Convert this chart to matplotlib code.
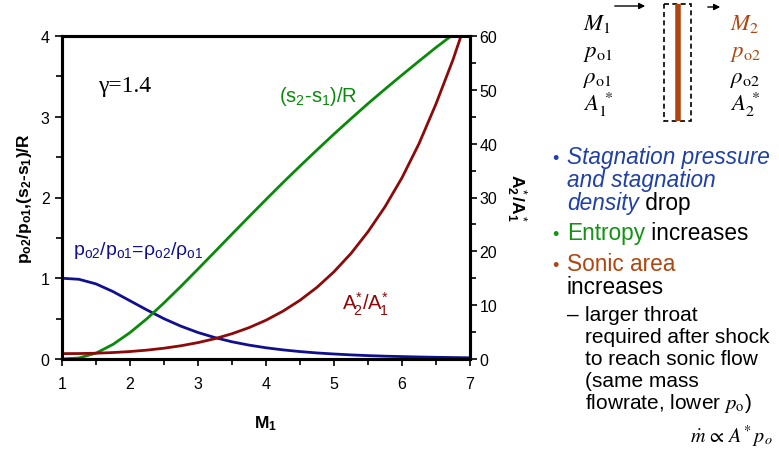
import numpy as np
import matplotlib
matplotlib.use("Agg")
import matplotlib.pyplot as plt
from matplotlib.patches import Rectangle
from matplotlib.ticker import MultipleLocator

plt.rcParams["font.family"] = ["Liberation Sans", "DejaVu Sans"]
plt.rcParams["mathtext.fontset"] = "custom"
plt.rcParams["mathtext.rm"] = "Liberation Sans"
plt.rcParams["mathtext.it"] = "Liberation Sans:italic"
plt.rcParams["mathtext.bf"] = "Liberation Sans:bold"

# normal shock, gamma = 1.4
mach = [1.0, 1.25, 1.5, 1.75, 2.0, 2.25, 2.5, 2.75, 3.0, 3.25, 3.5, 3.75, 4.0,
        4.25, 4.5, 4.75, 5.0, 5.25, 5.5, 5.75, 6.0, 6.25, 6.5, 6.75, 7.0]
p_ratio = [1.0, 0.987, 0.930, 0.835, 0.721, 0.607, 0.499, 0.406, 0.328, 0.265,
           0.213, 0.172, 0.139, 0.113, 0.092, 0.075, 0.062, 0.051, 0.042, 0.035,
           0.030, 0.025, 0.021, 0.018, 0.015]
entropy = [0.0, 0.013, 0.073, 0.181, 0.327, 0.500, 0.695, 0.901, 1.114, 1.330,
           1.547, 1.762, 1.975, 2.185, 2.389, 2.589, 2.786, 2.976, 3.163, 3.342,
           3.517, 3.689, 3.858, 4.018, 4.173]
area_ratio = [1.0, 1.013, 1.076, 1.198, 1.387, 1.649, 2.004, 2.462, 3.046, 3.778,
              4.697, 5.823, 7.205, 8.89, 10.91, 13.32, 16.21, 19.61, 23.64, 28.28,
              33.67, 40.0, 47.39, 55.6, 64.94]

BLUE = "#10108f"
GREEN = "#0a8a0a"
RED = "#8c0a0a"
BROWN = "#b0460f"
TXT_BLUE = "#1f40a8"
TXT_GREEN = "#129412"

W, H = 779, 452
fig = plt.figure(figsize=(W / 100, H / 100), dpi=100)
ax = fig.add_axes([62 / W, 1 - 360 / H, 408 / W, 323 / H])
ax2 = ax.twinx()

ax.plot(mach, p_ratio, color=BLUE, lw=2)
ax.plot(mach, entropy, color=GREEN, lw=2)
ax2.plot(mach, area_ratio, color=RED, lw=2)

ax.set_xlim(1, 7)
ax.set_ylim(0, 4)
ax2.set_ylim(0, 60)
ax.xaxis.set_major_locator(MultipleLocator(1))
ax.xaxis.set_minor_locator(MultipleLocator(0.5))
ax.yaxis.set_major_locator(MultipleLocator(1))
ax.yaxis.set_minor_locator(MultipleLocator(0.5))
ax2.yaxis.set_major_locator(MultipleLocator(10))
ax2.yaxis.set_minor_locator(MultipleLocator(5))

for a in (ax, ax2):
    for s in a.spines.values():
        s.set_linewidth(2.2)
    a.tick_params(which="major", length=5, width=1.2, labelsize=11.5)
    a.tick_params(which="minor", length=4, width=1.2)
ax.tick_params(axis="x", which="both", pad=7)
ax.tick_params(axis="y", which="both", pad=4)
ax2.tick_params(axis="y", which="both", pad=2)

ax.set_xlabel("M$_\\mathbf{1}$", fontsize=12.5, fontweight="bold", labelpad=16)
ax.set_ylabel("p$_{\\mathbf{o2}}$/p$_{\\mathbf{o1}}$,(s$_\\mathbf{2}$-s$_\\mathbf{1}$)/R",
              fontsize=12.5, fontweight="bold", labelpad=5)
ax2.set_ylabel("A$^*_\\mathbf{2}$/A$^*_\\mathbf{1}$", fontsize=12.5, fontweight="bold",
               rotation=-90, labelpad=22)

ax.text(1.53, 3.32, "\u03b3=1.4", fontsize=17, family="Liberation Serif")
ax.text(4.19, 3.19, "(s$_2$-s$_1$)/R", fontsize=14.5, color=GREEN)
ax.text(1.16, 1.3, "p$_{\\mathrm{o2}}$/p$_{\\mathrm{o1}}$=\u03c1$_{\\mathrm{o2}}$/\u03c1$_{\\mathrm{o1}}$",
        fontsize=14, color=BLUE)
ax.text(5.12, 0.62, "A$^{*}_{\\!2}$/A$^{*}_{\\!1}$", fontsize=14.5, color=RED)

# overlay in pixel coordinates for the side notes
ov = fig.add_axes([0, 0, 1, 1], facecolor="none")
ov.set_xlim(0, W)
ov.set_ylim(H, 0)
ov.axis("off")

# shock schematic
ov.add_patch(Rectangle((664, 5), 27, 117, fill=False, ls=(0, (3, 2)), lw=1.2, color="black"))
ov.plot([678, 678], [5, 122], color=BROWN, lw=4, solid_capstyle="butt")
ov.annotate("", xy=(648, 7), xytext=(612, 7),
            arrowprops=dict(arrowstyle="-|>", color="black", lw=1, mutation_scale=9))
ov.annotate("", xy=(723, 8), xytext=(705, 8),
            arrowprops=dict(arrowstyle="-|>", color="black", lw=1, mutation_scale=9))
left_lbl = ["$M_1$", "$p_{\\mathrm{o1}}$", "$\\rho_{\\mathrm{o1}}$", "$A_1^{\\,*}$"]
right_lbl = ["$M_2$", "$p_{\\mathrm{o2}}$", "$\\rho_{\\mathrm{o2}}$", "$A_2^{\\,*}$"]
right_col = [BROWN, BROWN, "black", "black"]
for yb, l, r, c in zip([30, 57, 83, 111], left_lbl, right_lbl, right_col):
    ov.text(583, yb, l, fontsize=16.5, math_fontfamily="stix", va="baseline")
    ov.text(730, yb, r, fontsize=16.5, math_fontfamily="stix", va="baseline", color=c)

renderer = fig.canvas.get_renderer()


def seg_line(x, y, parts, size):
    for txt, col, style in parts:
        t = ov.text(x, y, txt, fontsize=size, color=col, style=style, va="baseline",
                    math_fontfamily="stix")
        x += t.get_window_extent(renderer).width


BIG = 16.3
SMALL = 15
ov.text(552, 164, "\u2022", fontsize=13, color=TXT_BLUE, va="baseline")
seg_line(567, 164, [("Stagnation pressure", TXT_BLUE, "italic")], BIG)
seg_line(567, 187, [("and stagnation", TXT_BLUE, "italic")], BIG)
seg_line(567, 210, [("density", TXT_BLUE, "italic"), (" drop", "black", "normal")], BIG)
ov.text(552, 240, "\u2022", fontsize=13, color=TXT_GREEN, va="baseline")
seg_line(567, 240, [("Entropy", TXT_GREEN, "normal"), (" increases", "black", "normal")], BIG)
ov.text(552, 271, "\u2022", fontsize=13, color=BROWN, va="baseline")
seg_line(567, 271, [("Sonic area", BROWN, "normal")], BIG)
seg_line(567, 294, [("increases", "black", "normal")], BIG)
ov.text(567, 321, "\u2013", fontsize=SMALL, va="baseline")
sub_lines = ["larger throat", "required after shock", "to reach sonic flow", "(same mass",
             "flowrate, lower $p_\\mathrm{o}$)"]
for i, s in enumerate(sub_lines):
    ov.text(585, 321 + 22 * i, s, fontsize=SMALL, va="baseline", math_fontfamily="stix")
ov.text(773, 443, "$\\dot{m}\\,\\propto\\,A^{*}\\,p_o$", fontsize=14.5, ha="right",
        va="baseline", math_fontfamily="stix")

fig.savefig("out.png", dpi=100)
